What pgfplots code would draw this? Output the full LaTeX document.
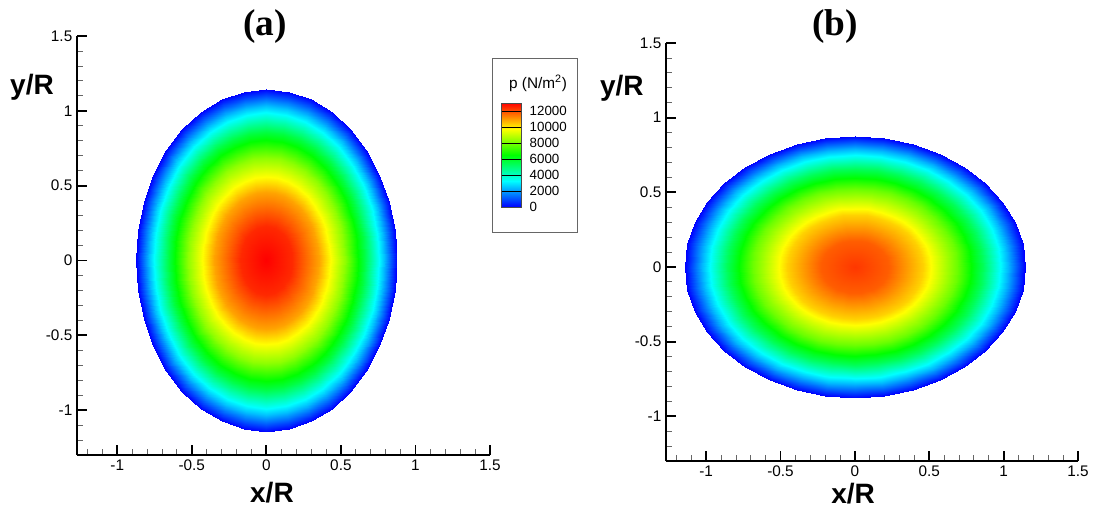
\documentclass[border=0pt]{standalone}
\usepackage{pgfplots}
\usepackage{pgfplotstable}
\pgfplotsset{compat=1.18}
\usepackage{fontspec}
\setmainfont{Liberation Sans}
\newfontfamily\titlefont{Liberation Serif}

% Tecplot-like rainbow
\pgfplotsset{colormap={tecrainbow}{rgb255=(0,0,255) rgb255=(0,255,255) rgb255=(0,255,0) rgb255=(255,255,0) rgb255=(255,0,0)}}

% contact pressure on an elliptic patch: rings r = 0,0.2,0.4,0.6,0.75,0.9,1 x 37 angles (10 deg)
% x = 0.875 r cos t, y = 1.145 r sin t ; pa = case (a), pb = case (b)
\pgfplotstableread{
x y pa pb
0 0 13000 12300
0 0 13000 12300
0 0 13000 12300
0 0 13000 12300
0 0 13000 12300
0 0 13000 12300
0 0 13000 12300
0 0 13000 12300
0 0 13000 12300
0 0 13000 12300
0 0 13000 12300
0 0 13000 12300
0 0 13000 12300
0 0 13000 12300
0 0 13000 12300
0 0 13000 12300
0 0 13000 12300
0 0 13000 12300
0 0 13000 12300
0 0 13000 12300
0 0 13000 12300
0 0 13000 12300
0 0 13000 12300
0 0 13000 12300
0 0 13000 12300
0 0 13000 12300
0 0 13000 12300
0 0 13000 12300
0 0 13000 12300
0 0 13000 12300
0 0 13000 12300
0 0 13000 12300
0 0 13000 12300
0 0 13000 12300
0 0 13000 12300
0 0 13000 12300
0 0 13000 12300
0.1750 0 12480 11808
0.1723 0.0398 12480 11808
0.1645 0.0783 12480 11808
0.1516 0.1145 12480 11808
0.1341 0.1472 12480 11808
0.1125 0.1754 12480 11808
0.0875 0.1983 12480 11808
0.0599 0.2152 12480 11808
0.0304 0.2255 12480 11808
0 0.2290 12480 11808
-0.0304 0.2255 12480 11808
-0.0599 0.2152 12480 11808
-0.0875 0.1983 12480 11808
-0.1125 0.1754 12480 11808
-0.1341 0.1472 12480 11808
-0.1516 0.1145 12480 11808
-0.1645 0.0783 12480 11808
-0.1723 0.0398 12480 11808
-0.1750 0 12480 11808
-0.1723 -0.0398 12480 11808
-0.1645 -0.0783 12480 11808
-0.1516 -0.1145 12480 11808
-0.1341 -0.1472 12480 11808
-0.1125 -0.1754 12480 11808
-0.0875 -0.1983 12480 11808
-0.0599 -0.2152 12480 11808
-0.0304 -0.2255 12480 11808
0 -0.2290 12480 11808
0.0304 -0.2255 12480 11808
0.0599 -0.2152 12480 11808
0.0875 -0.1983 12480 11808
0.1125 -0.1754 12480 11808
0.1341 -0.1472 12480 11808
0.1516 -0.1145 12480 11808
0.1645 -0.0783 12480 11808
0.1723 -0.0398 12480 11808
0.1750 0 12480 11808
0.3500 0 10920 10332
0.3447 0.0795 10920 10332
0.3289 0.1566 10920 10332
0.3031 0.2290 10920 10332
0.2681 0.2944 10920 10332
0.2250 0.3508 10920 10332
0.1750 0.3966 10920 10332
0.1197 0.4304 10920 10332
0.0608 0.4510 10920 10332
0 0.4580 10920 10332
-0.0608 0.4510 10920 10332
-0.1197 0.4304 10920 10332
-0.1750 0.3966 10920 10332
-0.2250 0.3508 10920 10332
-0.2681 0.2944 10920 10332
-0.3031 0.2290 10920 10332
-0.3289 0.1566 10920 10332
-0.3447 0.0795 10920 10332
-0.3500 0 10920 10332
-0.3447 -0.0795 10920 10332
-0.3289 -0.1566 10920 10332
-0.3031 -0.2290 10920 10332
-0.2681 -0.2944 10920 10332
-0.2250 -0.3508 10920 10332
-0.1750 -0.3966 10920 10332
-0.1197 -0.4304 10920 10332
-0.0608 -0.4510 10920 10332
0 -0.4580 10920 10332
0.0608 -0.4510 10920 10332
0.1197 -0.4304 10920 10332
0.1750 -0.3966 10920 10332
0.2250 -0.3508 10920 10332
0.2681 -0.2944 10920 10332
0.3031 -0.2290 10920 10332
0.3289 -0.1566 10920 10332
0.3447 -0.0795 10920 10332
0.3500 0 10920 10332
0.5250 0 8320 7872
0.5170 0.1193 8320 7872
0.4933 0.2350 8320 7872
0.4547 0.3435 8320 7872
0.4022 0.4416 8320 7872
0.3375 0.5262 8320 7872
0.2625 0.5949 8320 7872
0.1796 0.6456 8320 7872
0.0911 0.6766 8320 7872
0 0.6870 8320 7872
-0.0911 0.6766 8320 7872
-0.1796 0.6456 8320 7872
-0.2625 0.5949 8320 7872
-0.3375 0.5262 8320 7872
-0.4022 0.4416 8320 7872
-0.4547 0.3435 8320 7872
-0.4933 0.2350 8320 7872
-0.5170 0.1193 8320 7872
-0.5250 0 8320 7872
-0.5170 -0.1193 8320 7872
-0.4933 -0.2350 8320 7872
-0.4547 -0.3435 8320 7872
-0.4022 -0.4416 8320 7872
-0.3375 -0.5262 8320 7872
-0.2625 -0.5949 8320 7872
-0.1796 -0.6456 8320 7872
-0.0911 -0.6766 8320 7872
0 -0.6870 8320 7872
0.0911 -0.6766 8320 7872
0.1796 -0.6456 8320 7872
0.2625 -0.5949 8320 7872
0.3375 -0.5262 8320 7872
0.4022 -0.4416 8320 7872
0.4547 -0.3435 8320 7872
0.4933 -0.2350 8320 7872
0.5170 -0.1193 8320 7872
0.5250 0 8320 7872
0.6563 0 5688 5381
0.6463 0.1491 5688 5381
0.6167 0.2937 5688 5381
0.5683 0.4294 5688 5381
0.5027 0.5520 5688 5381
0.4218 0.6578 5688 5381
0.3281 0.7437 5688 5381
0.2244 0.8070 5688 5381
0.1139 0.8457 5688 5381
0 0.8588 5688 5381
-0.1139 0.8457 5688 5381
-0.2244 0.8070 5688 5381
-0.3281 0.7437 5688 5381
-0.4218 0.6578 5688 5381
-0.5027 0.5520 5688 5381
-0.5683 0.4294 5688 5381
-0.6167 0.2937 5688 5381
-0.6463 0.1491 5688 5381
-0.6563 0 5688 5381
-0.6463 -0.1491 5688 5381
-0.6167 -0.2937 5688 5381
-0.5683 -0.4294 5688 5381
-0.5027 -0.5520 5688 5381
-0.4218 -0.6578 5688 5381
-0.3281 -0.7437 5688 5381
-0.2244 -0.8070 5688 5381
-0.1139 -0.8457 5688 5381
0 -0.8588 5688 5381
0.1139 -0.8457 5688 5381
0.2244 -0.8070 5688 5381
0.3281 -0.7437 5688 5381
0.4218 -0.6578 5688 5381
0.5027 -0.5520 5688 5381
0.5683 -0.4294 5688 5381
0.6167 -0.2937 5688 5381
0.6463 -0.1491 5688 5381
0.6563 0 5688 5381
0.7875 0 2470 2337
0.7755 0.1789 2470 2337
0.7400 0.3524 2470 2337
0.6820 0.5153 2470 2337
0.6032 0.6624 2470 2337
0.5062 0.7894 2470 2337
0.3938 0.8924 2470 2337
0.2693 0.9684 2470 2337
0.1367 1.0148 2470 2337
0 1.0305 2470 2337
-0.1367 1.0148 2470 2337
-0.2693 0.9684 2470 2337
-0.3938 0.8924 2470 2337
-0.5062 0.7894 2470 2337
-0.6032 0.6624 2470 2337
-0.6820 0.5153 2470 2337
-0.7400 0.3524 2470 2337
-0.7755 0.1789 2470 2337
-0.7875 0 2470 2337
-0.7755 -0.1789 2470 2337
-0.7400 -0.3524 2470 2337
-0.6820 -0.5153 2470 2337
-0.6032 -0.6624 2470 2337
-0.5062 -0.7894 2470 2337
-0.3938 -0.8924 2470 2337
-0.2693 -0.9684 2470 2337
-0.1367 -1.0148 2470 2337
0 -1.0305 2470 2337
0.1367 -1.0148 2470 2337
0.2693 -0.9684 2470 2337
0.3938 -0.8924 2470 2337
0.5062 -0.7894 2470 2337
0.6032 -0.6624 2470 2337
0.6820 -0.5153 2470 2337
0.7400 -0.3524 2470 2337
0.7755 -0.1789 2470 2337
0.7875 0 2470 2337
0.8750 0 0 0
0.8617 0.1988 0 0
0.8223 0.3916 0 0
0.7578 0.5725 0 0
0.6703 0.7360 0 0
0.5625 0.8771 0 0
0.4375 0.9916 0 0
0.2993 1.0760 0 0
0.1519 1.1276 0 0
0 1.1450 0 0
-0.1519 1.1276 0 0
-0.2993 1.0760 0 0
-0.4375 0.9916 0 0
-0.5625 0.8771 0 0
-0.6703 0.7360 0 0
-0.7578 0.5725 0 0
-0.8223 0.3916 0 0
-0.8617 0.1988 0 0
-0.8750 0 0 0
-0.8617 -0.1988 0 0
-0.8223 -0.3916 0 0
-0.7578 -0.5725 0 0
-0.6703 -0.7360 0 0
-0.5625 -0.8771 0 0
-0.4375 -0.9916 0 0
-0.2993 -1.0760 0 0
-0.1519 -1.1276 0 0
0 -1.1450 0 0
0.1519 -1.1276 0 0
0.2993 -1.0760 0 0
0.4375 -0.9916 0 0
0.5625 -0.8771 0 0
0.6703 -0.7360 0 0
0.7578 -0.5725 0 0
0.8223 -0.3916 0 0
0.8617 -0.1988 0 0
0.8750 0 0 0
}\pdata

\pgfplotstableread{
x y p
0 0 0
1 0 0
0 3250 3250
1 3250 3250
0 6500 6500
1 6500 6500
0 9750 9750
1 9750 9750
0 13000 13000
1 13000 13000
}\cbar

\pgfplotsset{
  tecaxis/.style={
    scale only axis, anchor=south west,
    xmin=-1.27, xmax=1.5, ymin=-1.3, ymax=1.5,
    axis lines*=left,
    axis line style={line width=1.4pt},
    tick align=inside,
    xtick={-1,-0.5,...,1.5}, ytick={-1,-0.5,...,1.5},
    minor xtick={-1.2,-1.1,...,1.45},
    minor ytick={-1.2,-1.1,...,1.45},
    major tick length=7.5pt, minor tick length=4.5pt,
    major tick style={line width=1.4pt, black},
    minor tick style={line width=0.6pt, black!60},
    tick label style={font=\fontsize{11.5}{13}\selectfont},
    /pgf/number format/assume math mode=true,
    xlabel={x/R}, ylabel={y/R},
    label style={font=\bfseries\fontsize{21}{23}\selectfont},
    colormap name=tecrainbow,
    point meta min=0, point meta max=13000,
  },
}

\begin{document}
\begin{tikzpicture}
\path[use as bounding box] (0pt,0pt) rectangle (821.25pt,383.25pt);

% (a)
\begin{axis}[tecaxis, at={(57.75pt,42pt)}, width=309.75pt, height=314.25pt,
  xlabel style={at={(axis description cs:0.472,-0.091)}, anchor=center},
  ylabel style={at={(axis description cs:-0.109,0.878)}, anchor=center, rotate=-90}]
\addplot[surf, shader=interp, mesh/cols=37, mesh/rows=7, point meta=explicit]
  table[x=x, y=y, meta=pa] {\pdata};
\end{axis}

% (b)
\begin{axis}[tecaxis, at={(499.5pt,37.5pt)}, width=309pt, height=313.5pt,
  xlabel style={at={(axis description cs:0.454,-0.077)}, anchor=center},
  ylabel style={at={(axis description cs:-0.107,0.892)}, anchor=center, rotate=-90}]
\addplot[surf, shader=interp, mesh/cols=37, mesh/rows=7, point meta=explicit]
  table[x=y, y=x, meta=pb] {\pdata};
\end{axis}

% legend
\draw[black!60, line width=0.6pt] (369pt,209.25pt) rectangle (432.75pt,339.75pt);
\node[font=\fontsize{11.5}{13}\selectfont] at (403.5pt,321pt) {p (N/m\textsuperscript{2})};
\begin{axis}[scale only axis, anchor=south west, at={(375.75pt,228pt)},
  width=15pt, height=78pt, xmin=0, xmax=1, ymin=0, ymax=13000,
  xtick=\empty, ytick={0,2000,...,12000}, yticklabel pos=right,
  ymajorgrids, major grid style={black, line width=0.5pt},
  major tick length=0pt, scaled y ticks=false,
  /pgf/number format/1000 sep={}, /pgf/number format/assume math mode=true,
  yticklabel style={font=\fontsize{10}{11}\selectfont, xshift=3pt},
  axis line style={black!70, line width=0.4pt},
  colormap name=tecrainbow, point meta min=0, point meta max=13000,
  axis on top]
\addplot[surf, shader=interp, mesh/cols=2, mesh/rows=5, point meta=explicit]
  table[x=x, y=y, meta=p] {\cbar};
\end{axis}

% panel titles
\node[font=\titlefont\bfseries\fontsize{28}{30}\selectfont] at (198.75pt,363pt) {(a)};
\node[font=\titlefont\bfseries\fontsize{28}{30}\selectfont] at (626.25pt,363pt) {(b)};
\end{tikzpicture}
\end{document}
